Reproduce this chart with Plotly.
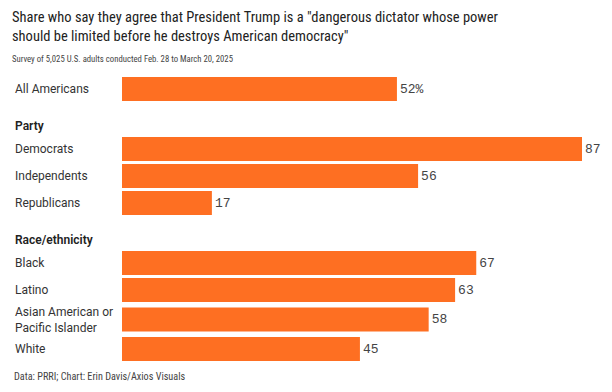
import plotly.graph_objects as go

# ---- data ----
groups = ["", "Party", "Race/ethnicity"]
categories = [
    ["All Americans"],
    ["Democrats", "Independents", "Republicans"],
    ["Black", "Latino", "Asian American or<br>Pacific Islander", "White"],
]
values = [
    [52],
    [87, 56, 17],
    [67, 63, 58, 45],
]
value_suffix_first = "%"

title = 'Share who say they agree that President Trump is a "dangerous dictator whose power<br>should be limited before he destroys American democracy"'
subtitle = "Survey of 5,025 U.S. adults conducted Feb. 28 to March 20, 2025"
footer = "Data: PRRI; Chart: Erin Davis/Axios Visuals"

# ---- layout constants ----
PAGE_W, PAGE_H = 612, 392
OFF = 8  # default body margin of the html page
W, H = PAGE_W - OFF, PAGE_H - OFF
bar_left_page = 122
left_margin = bar_left_page - OFF
right_margin = 0
px_per_unit = 460 / 87
plot_w = W - left_margin - right_margin
xmax = plot_w / px_per_unit
bar_h = 24
row_pitch = 27
header_gap = 33
two_line_pad = 2.5
first_center = 89  # page px
label_x = 13       # page px

bar_color = "#fe6f22"
text_color = "#333333"
SANS = "Roboto"

def py(page_y):
    return page_y - OFF

def px2paper(page_x):
    return (page_x - OFF - left_margin) / plot_w

# compute row positions (page px)
ys, labels, vals, headers = [], [], [], []
y = first_center
first = True
for g, cats, vs in zip(groups, categories, values):
    if not first:
        y += header_gap
    for ci, (c, v) in enumerate(zip(cats, vs)):
        if not first:
            y += row_pitch
        two = "<br>" in c
        if two:
            y += two_line_pad
        if ci == 0 and g:
            headers.append((g, y - 23))
        ys.append(y)
        labels.append(c)
        vals.append(v)
        if two:
            y += two_line_pad
        first = False

texts = [f"{v}{value_suffix_first}" if i == 0 else f"{v}" for i, v in enumerate(vals)]

fig = go.Figure(go.Bar(
    x=vals, y=[py(v) for v in ys], orientation="h", width=bar_h,
    marker=dict(color=bar_color, line=dict(width=0)),
    text=texts, textposition="outside", cliponaxis=False,
    textfont=dict(family="Liberation Mono", size=13, color="#444444"),
    hoverinfo="skip",
))

ann = []
for lab, yy in zip(labels, ys):
    ann.append(dict(x=px2paper(label_x), xref="paper", y=py(yy), yref="y", text=lab,
                    showarrow=False, xanchor="left", yanchor="middle", align="left",
                    font=dict(family=SANS, size=12, color=text_color)))
for g, yy in headers:
    ann.append(dict(x=px2paper(label_x), xref="paper", y=py(yy), yref="y", text=g,
                    showarrow=False, xanchor="left", yanchor="middle",
                    font=dict(family=SANS, size=12, color="#222222", weight=600)))

ann.append(dict(x=px2paper(label_x - 3), xref="paper", y=py(27), yref="y", text=title,
                showarrow=False, xanchor="left", yanchor="middle", align="left",
                font=dict(family="Roboto Condensed", size=14.5, color="#222222")))
ann.append(dict(x=px2paper(label_x - 3), xref="paper", y=py(59), yref="y", text=subtitle,
                showarrow=False, xanchor="left", yanchor="middle",
                font=dict(family="Roboto Condensed", size=8.7, color="#444444")))
ann.append(dict(x=px2paper(label_x - 1), xref="paper", y=py(376), yref="y", text=footer,
                showarrow=False, xanchor="left", yanchor="middle",
                font=dict(family="Roboto Condensed", size=10.2, color="#444444")))

fig.update_layout(
    width=W, height=H,
    margin=dict(l=left_margin, r=right_margin, t=0, b=0),
    paper_bgcolor="white", plot_bgcolor="white",
    showlegend=False,
    xaxis=dict(range=[0, xmax], visible=False, fixedrange=True),
    yaxis=dict(range=[H, 0], visible=False, fixedrange=True),
    annotations=ann,
)

fig.write_html("out.html")
